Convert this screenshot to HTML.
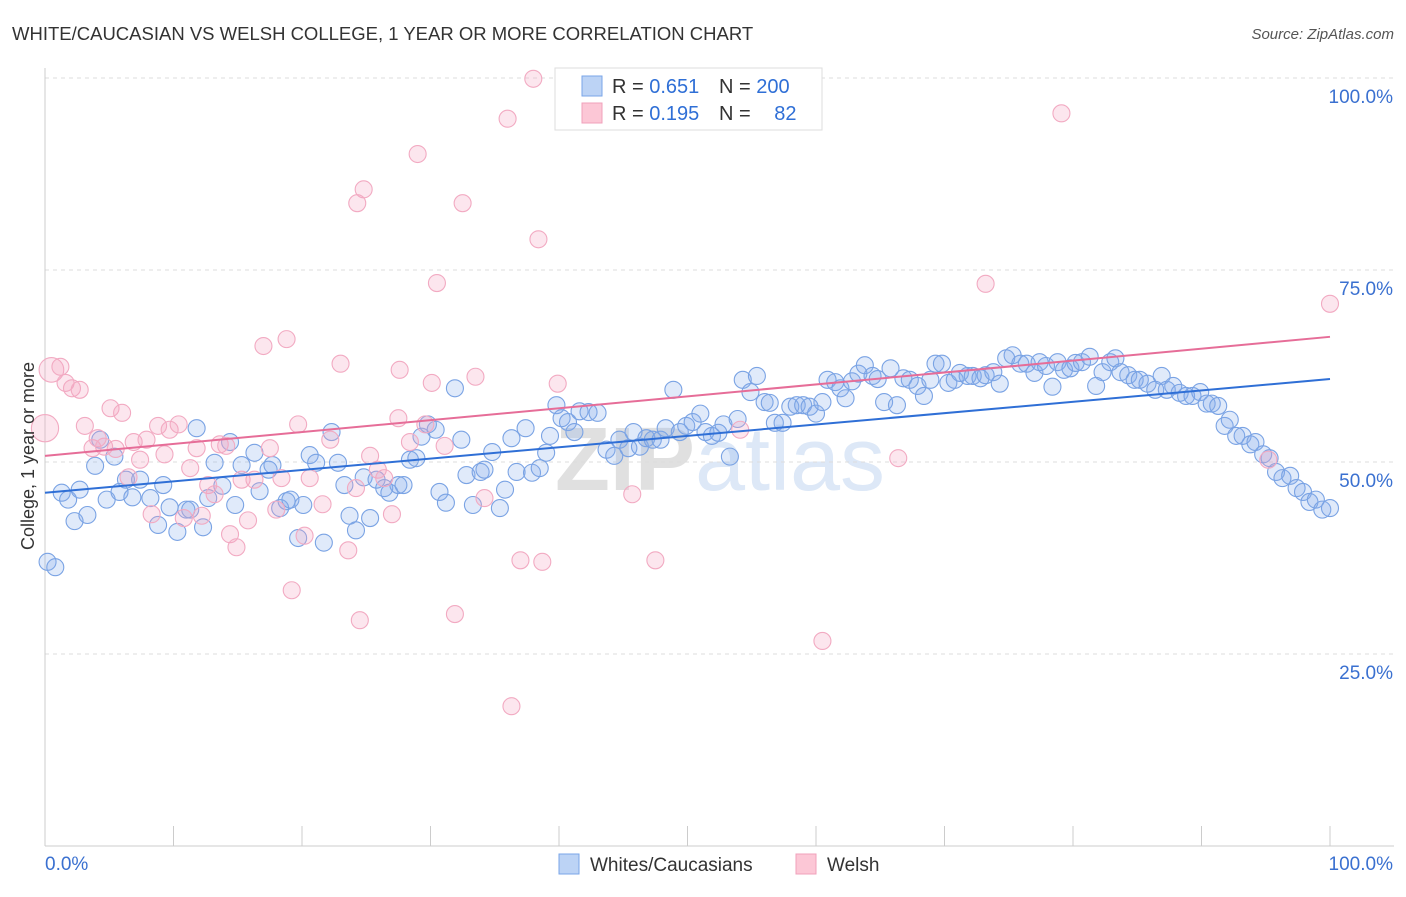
<!DOCTYPE html>
<html><head><meta charset="utf-8"><style>
body{margin:0;background:#fff;font-family:"Liberation Sans",sans-serif}
svg text{font-family:"Liberation Sans",sans-serif}
</style></head><body>
<svg id="chart" width="1406" height="892" xmlns="http://www.w3.org/2000/svg">
<text x="12" y="40" font-size="18.5" fill="#333">WHITE/CAUCASIAN VS WELSH COLLEGE, 1 YEAR OR MORE CORRELATION CHART</text>
<text x="1394" y="39" font-size="15" fill="#555" font-style="italic" text-anchor="end">Source: ZipAtlas.com</text>
<text x="720" y="490" font-size="90" fill="#e4e4e4" text-anchor="middle" font-weight="bold"><tspan fill="#e0e0e0">ZIP</tspan><tspan fill="#dde8f7" font-weight="normal">atlas</tspan></text>
<g id="grid"></g>
<g id="pts"></g>
<g id="lines"></g>
<text transform="translate(34,456) rotate(-90)" font-size="18" fill="#333" text-anchor="middle">College, 1 year or more</text>
<g>
<rect x="555" y="68" width="267" height="62" fill="#fff" stroke="#ddd"/>
<rect x="582" y="76" width="20" height="20" fill="#bcd3f5" stroke="#7aa6e8"/>
<rect x="582" y="103" width="20" height="20" fill="#fcc7d6" stroke="#f0a0bb"/>
<text x="612" y="93" font-size="20" fill="#333">R = <tspan fill="#2f6fd6">0.651</tspan></text>
<text x="719" y="93" font-size="20" fill="#333">N = <tspan fill="#2f6fd6">200</tspan></text>
<text x="612" y="120" font-size="20" fill="#333">R = <tspan fill="#2f6fd6">0.195</tspan></text>
<text x="719" y="120" font-size="20" fill="#333">N = <tspan fill="#2f6fd6" dx="18">82</tspan></text>
</g>
<g>
<rect x="559" y="854" width="20" height="20" fill="#bcd3f5" stroke="#7aa6e8"/>
<text x="590" y="871" font-size="19" fill="#333">Whites/Caucasians</text>
<rect x="796" y="854" width="20" height="20" fill="#fcc7d6" stroke="#f0a0bb"/>
<text x="827" y="871" font-size="19" fill="#333">Welsh</text>
</g>
</svg>
<script>
const blueX=[0.2,0.8,1.3,1.8,2.3,2.7,3.3,3.9,4.3,4.8,5.4,5.8,6.3,6.8,7.4,8.2,8.8,9.2,9.7,10.3,11.0,11.3,11.8,12.3,12.7,13.2,13.8,14.4,14.8,15.3,16.3,16.7,17.4,17.7,18.3,18.8,19.1,19.7,20.1,20.6,21.1,21.7,22.3,22.8,23.3,23.7,24.2,24.8,25.3,25.8,26.4,26.8,27.5,27.9,28.4,28.9,29.3,29.8,30.4,30.7,31.2,31.9,32.4,32.8,33.3,33.9,34.2,34.8,35.4,35.8,36.3,36.7,37.4,37.9,38.5,39.0,39.3,39.8,40.2,40.7,41.2,41.6,42.3,43.0,43.7,44.3,44.7,45.4,45.8,46.3,46.8,47.3,47.9,48.3,48.9,49.4,49.9,50.4,51.0,51.4,51.9,52.4,52.8,53.3,53.9,54.3,54.9,55.4,56.0,56.4,56.8,57.4,58.0,58.5,59.0,59.5,60.0,60.5,60.9,61.5,61.9,62.3,62.8,63.3,63.8,64.4,64.8,65.3,65.8,66.3,66.8,67.3,67.9,68.4,68.9,69.3,69.8,70.3,70.8,71.2,71.8,72.2,72.8,73.2,73.8,74.3,74.8,75.3,75.9,76.4,77.0,77.4,77.9,78.4,78.8,79.3,79.8,80.2,80.7,81.3,81.8,82.3,82.9,83.3,83.7,84.3,84.8,85.2,85.8,86.4,86.9,87.3,87.8,88.3,88.8,89.3,89.9,90.4,90.8,91.3,91.8,92.2,92.7,93.2,93.8,94.2,94.8,95.3,95.8,96.3,96.9,97.4,97.9,98.4,98.9,99.4,100];
const blueY=[37.0,36.3,46.0,45.1,42.3,46.4,43.1,49.5,52.9,45.1,50.7,46.1,47.7,45.4,47.7,45.3,41.8,47.0,44.1,40.9,43.8,43.8,54.4,41.5,45.3,49.9,46.9,52.6,44.4,49.6,51.2,46.2,49.0,49.6,44.0,44.9,45.1,40.1,44.4,50.9,49.9,39.5,53.9,49.9,47.0,43.0,41.1,48.0,42.7,47.7,46.6,46.0,47.0,47.0,50.3,50.5,53.3,54.9,54.2,46.1,44.7,59.6,52.9,48.3,44.4,48.7,49.0,51.3,44.0,46.4,53.1,48.7,54.4,48.6,49.2,51.2,53.4,57.4,55.7,55.2,53.9,56.6,56.5,56.4,51.6,50.8,52.9,51.8,53.9,52.0,53.1,52.9,52.9,54.4,59.4,53.9,54.7,55.2,56.3,53.9,53.4,53.8,54.9,50.7,55.6,60.7,59.1,61.2,57.8,57.7,55.1,55.1,57.2,57.4,57.4,57.2,56.3,57.8,60.7,60.4,59.6,58.3,60.5,61.5,62.6,61.2,60.8,57.8,62.2,57.4,60.9,60.7,59.9,58.6,60.7,62.8,62.8,60.3,60.7,61.6,61.2,61.2,60.9,61.3,61.7,60.2,63.5,63.9,62.8,62.8,61.6,63.0,62.5,59.8,63.0,62.0,62.2,62.9,63.0,63.7,59.9,61.7,63.0,63.5,61.7,61.3,60.7,60.7,60.2,59.4,61.2,59.4,59.9,59.0,58.6,58.6,59.1,57.6,57.6,57.3,54.7,55.5,53.4,53.4,52.3,52.6,51.0,50.5,48.7,47.9,48.2,46.6,46.1,44.8,45.1,43.8,44.0];
const pinkX=[0.5,0,1.2,1.6,2.1,2.7,3.1,3.7,4.1,4.6,5.1,5.5,6.0,6.5,6.9,7.4,7.9,8.3,8.8,9.3,9.7,10.4,10.8,11.3,11.8,12.2,12.7,13.2,13.6,14.1,14.4,14.9,15.3,15.8,16.3,17.0,17.5,18.0,18.4,18.8,19.2,19.7,20.2,20.6,21.6,22.2,23.0,23.6,24.2,24.5,24.8,24.3,25.3,25.9,26.4,27.0,27.5,27.6,28.4,29.0,29.6,30.1,30.5,31.1,31.9,32.5,33.5,34.2,36.0,36.3,37.0,38.0,38.4,38.7,39.9,41.0,45.7,47.5,54.1,60.5,66.4,73.2,79.1,95.2,100];
const pinkY=[62.0,54.4,62.4,60.3,59.6,59.4,54.7,51.8,53.1,52.0,57.0,51.7,56.4,48.0,52.6,50.3,52.9,43.2,54.7,51.0,54.2,54.9,42.7,49.2,51.8,43.0,47.0,45.8,52.3,52.1,40.6,38.9,47.7,42.4,47.7,65.1,51.8,43.8,47.9,66.0,33.3,54.9,40.4,47.9,44.5,52.9,62.8,38.5,46.6,29.4,85.5,83.7,50.8,49.0,47.9,43.2,55.7,62.0,52.6,90.1,54.9,60.3,73.3,52.1,30.2,83.7,61.1,45.3,94.7,18.2,37.2,99.9,79.0,37.0,60.2,99.9,45.8,37.2,54.2,26.7,50.5,73.2,95.4,50.3,70.6];
const pinkWeight=[1.45,1.6];
const blueTrend=[46.0,60.8];
const pinkTrend=[50.8,66.3];
const yTicks=[100,75,50,25];
const yTickLabels=["100.0%","75.0%","50.0%","25.0%"];
const xTicks=[0,10,20,30,40,50,60,70,80,90,100];

const X=v=>45+v*12.85, Y=v=>846-v*7.68;
const NS="http://www.w3.org/2000/svg";
function mk(tag,attrs,parent){const e=document.createElementNS(NS,tag);for(const k in attrs)e.setAttribute(k,attrs[k]);parent.appendChild(e);return e;}
const grid=document.getElementById('grid'),pts=document.getElementById('pts'),lines=document.getElementById('lines');
yTicks.forEach((t,i)=>{
 const l=mk('line',{x1:45,x2:1394,y1:Y(t),y2:Y(t),stroke:'#ddd','stroke-dasharray':'4,4'},grid);
 
 
 const tx=mk('text',{x:1393,y:Y(t)+25,'font-size':19,fill:'#3a70d0','text-anchor':'end'},grid);
 tx.textContent=yTickLabels[i];
 
 
});
const ax=mk('line',{x1:45,x2:1394,y1:846,y2:846,stroke:'#ccc'},grid);


const ay=mk('line',{x1:45,x2:45,y1:68,y2:846,stroke:'#ccc'},grid);


xTicks.forEach(t=>{
 const l=mk('line',{x1:X(t),x2:X(t),y1:826,y2:846,stroke:'#ccc'},grid);
 
 
});
const xl0=mk('text',{x:45,y:870,'font-size':19,fill:'#3a70d0'},grid);xl0.textContent='0.0%';


const xl1=mk('text',{x:1393,y:870,'font-size':19,fill:'#3a70d0','text-anchor':'end'},grid);xl1.textContent='100.0%';


blueX.forEach((v,i)=>{
 const c=mk('circle',{cx:X(v),cy:Y(blueY[i]),r:8.5,fill:'rgba(130,170,235,0.25)',stroke:'#7aa3e4','stroke-width':1.1},pts);
 
 
});
pinkX.forEach((v,i)=>{
 const w=pinkWeight[i]||1;
 const c=mk('circle',{cx:X(v),cy:Y(pinkY[i]),r:8.5*w,fill:'rgba(245,165,195,0.28)',stroke:'#f2aac2','stroke-width':1.1},pts);
 
 
});
const bl=mk('line',{x1:X(0),x2:X(100),y1:Y(blueTrend[0]),y2:Y(blueTrend[1]),stroke:'#2f6fd6','stroke-width':2},lines);


const pl=mk('line',{x1:X(0),x2:X(100),y1:Y(pinkTrend[0]),y2:Y(pinkTrend[1]),stroke:'#e66d98','stroke-width':2},lines);


</script>
</body></html>
